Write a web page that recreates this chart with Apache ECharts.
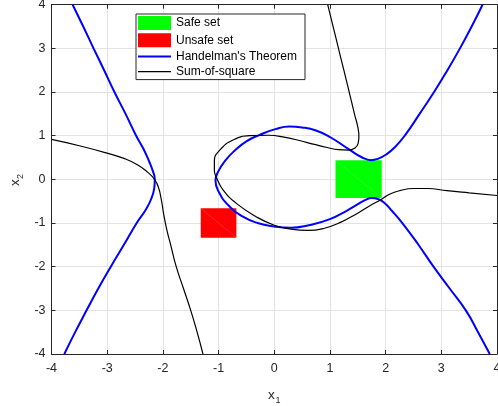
<!DOCTYPE html>
<html>
<head>
<meta charset="UTF-8">
<title>Safe / unsafe sets</title>
<script src="https://cdn.jsdelivr.net/npm/echarts@6/dist/echarts.min.js"></script>
<style>
  html, body { margin: 0; padding: 0; background: #fff; }
  #chart { width: 498px; height: 406px; }
</style>
</head>
<body>
<div id="chart"></div>
<script>
// axis ticks
var ticks = [-4, -3, -2, -1, 0, 1, 2, 3, 4];

// boxes: [x1, y1, x2, y2]
var safeBox = [1.1, -0.43, 1.93, 0.44];
var unsafeBox = [-1.32, -1.34, -0.68, -0.66];

// Handelman's Theorem curve (two branches)
var blueLeft = [
  [-3.62, 4], [-3.43, 3.5], [-3.245, 3], [-3.055, 2.5], [-2.87, 2], [-2.67, 1.5], [-2.48, 1],
  [-2.35, 0.7], [-2.25, 0.42], [-2.175, 0.17], [-2.145, 0], [-2.155, -0.2],
  [-2.21, -0.45], [-2.31, -0.7], [-2.47, -1], [-2.70, -1.5], [-2.935, -2],
  [-3.16, -2.5], [-3.37, -3], [-3.575, -3.5], [-3.77, -4]
];
var blueRight = [
  [3.74, 4], [3.545, 3.5], [3.335, 3], [3.11, 2.5], [2.87, 2], [2.61, 1.5], [2.36, 1.03],
  [2.17, 0.74], [2.01, 0.57], [1.86, 0.47], [1.74, 0.44], [1.58, 0.5], [1.35, 0.68],
  [1.0, 0.97], [0.75, 1.12], [0.5, 1.19], [0.27, 1.21], [0.02, 1.15], [-0.26, 1.02],
  [-0.5, 0.87], [-0.7, 0.67], [-0.88, 0.43], [-1.01, 0.17], [-1.055, -0.03],
  [-0.99, -0.3], [-0.82, -0.6], [-0.57, -0.85], [-0.3, -1.0], [0, -1.08],
  [0.3, -1.11], [0.62, -1.05], [1.0, -0.91], [1.3, -0.72], [1.5, -0.57],
  [1.64, -0.47], [1.75, -0.43], [1.86, -0.45], [1.97, -0.53], [2.12, -0.73],
  [2.3, -1], [2.58, -1.48], [2.86, -2], [3.15, -2.5], [3.44, -3], [3.66, -3.5], [3.87, -4]
];

// Sum-of-square curve (two branches)
var blackLeft = [
  [-4, 0.915], [-3.5, 0.77], [-3, 0.6], [-2.7, 0.48], [-2.45, 0.33], [-2.27, 0.16],
  [-2.15, 0.0], [-2.08, -0.18], [-2.03, -0.45], [-1.985, -0.8], [-1.93, -1.15],
  [-1.86, -1.5], [-1.76, -2], [-1.63, -2.5], [-1.5, -3], [-1.385, -3.5], [-1.28, -4]
];
var blackRight = [
  [0.96, 4], [1.057, 3.5], [1.153, 3], [1.25, 2.5], [1.346, 2], [1.44, 1.5], [1.5, 1.2],
  [1.52, 0.98], [1.505, 0.82], [1.45, 0.72], [1.33, 0.67], [1.15, 0.68], [0.95, 0.73],
  [0.72, 0.8], [0.45, 0.89], [0.2, 0.96], [-0.1, 1.01], [-0.44, 1.0], [-0.74, 0.9],
  [-0.97, 0.68], [-1.075, 0.42], [-1.075, 0.2], [-1.03, 0.02], [-0.92, -0.24],
  [-0.68, -0.55], [-0.32, -0.86], [0.0, -1.05], [0.3, -1.14], [0.6, -1.17],
  [0.9, -1.12], [1.2, -0.98], [1.49, -0.78], [1.71, -0.61], [1.92, -0.46],
  [2.07, -0.34], [2.25, -0.26], [2.5, -0.21], [2.75, -0.21], [3.1, -0.26], [3.5, -0.31], [4, -0.37]
];

var axisColor = '#262626';
var font = 'Liberation Sans, Arial, sans-serif';

function boxRender(params, api) {
  var p1 = api.coord([api.value(0), api.value(3)]);
  var p2 = api.coord([api.value(2), api.value(1)]);
  return {
    type: 'group',
    children: [
      {
        type: 'rect',
        shape: { x: p1[0], y: p1[1], width: p2[0] - p1[0], height: p2[1] - p1[1] },
        style: { fill: api.visual('color') }
      },
      {
        type: 'line',
        shape: { x1: p1[0], y1: p1[1], x2: p2[0], y2: p2[1] },
        style: { stroke: 'rgba(255,255,255,0.25)', lineWidth: 0.6 }
      }
    ]
  };
}

function axisPair(dim, pos, showLabels) {
  return {
    type: 'value',
    position: pos,
    min: ticks[0],
    max: ticks[ticks.length - 1],
    interval: 1,
    axisLine: { show: true, onZero: false, lineStyle: { color: axisColor, width: 1 } },
    axisTick: { show: true, inside: true, length: 4, lineStyle: { color: axisColor } },
    axisLabel: {
      show: showLabels,
      color: axisColor,
      fontSize: 12.5,
      fontFamily: font,
      margin: dim === 'x' ? 8 : 6
    },
    splitLine: { show: showLabels, lineStyle: { color: '#e3e3e3', width: 1 } }
  };
}

var chart = echarts.init(document.getElementById('chart'));

var option = {
  animation: false,
  backgroundColor: '#fff',
  grid: { left: 51.5, right: 1, top: 4.7, bottom: 52, outerBoundsMode: 'none', containLabel: false },
  xAxis: [axisPair('x', 'bottom', true), axisPair('x', 'top', false)],
  yAxis: [axisPair('y', 'left', true), axisPair('y', 'right', false)],
  legend: {
    orient: 'vertical',
    left: 136,
    top: 14,
    padding: [2, 8, 2, 2],
    itemGap: 3.2,
    itemWidth: 33,
    itemHeight: 14,
    backgroundColor: '#fff',
    borderColor: axisColor,
    borderWidth: 1,
    borderRadius: 0,
    textStyle: { color: '#000', fontSize: 12, fontFamily: font },
    data: [
      { name: 'Safe set', icon: 'rect' },
      { name: 'Unsafe set', icon: 'rect' },
      { name: "Handelman's Theorem", icon: 'path://M0 0H100V6H0Z' },
      { name: 'Sum-of-square', icon: 'path://M0 0H100V3.6H0Z' }
    ]
  },
  graphic: [
    { type: 'text', x: 268, y: 402, style: { text: 'x', font: '13.5px ' + font, fill: axisColor, textVerticalAlign: 'bottom' } },
    { type: 'text', x: 275.5, y: 405, style: { text: '1', font: '9px ' + font, fill: axisColor, textVerticalAlign: 'bottom' } },
    {
      type: 'group', x: 22, y: 186, rotation: Math.PI / 2,
      children: [
        { type: 'text', x: 0, y: 0, style: { text: 'x', font: '13.5px ' + font, fill: axisColor, textVerticalAlign: 'bottom' } },
        { type: 'text', x: 7, y: 3, style: { text: '2', font: '9px ' + font, fill: axisColor, textVerticalAlign: 'bottom' } }
      ]
    }
  ],
  series: [
    {
      name: 'Safe set', type: 'custom', renderItem: boxRender,
      itemStyle: { color: '#00ff00' }, data: [safeBox], z: 1
    },
    {
      name: 'Unsafe set', type: 'custom', renderItem: boxRender,
      itemStyle: { color: '#ff0000' }, data: [unsafeBox], z: 1
    },
    {
      name: "Handelman's Theorem", type: 'line', data: blueLeft, symbol: 'none', smooth: 0.5,
      color: '#0000ff', lineStyle: { color: '#0000ff', width: 2 }, z: 3
    },
    {
      name: "Handelman's Theorem", type: 'line', data: blueRight, symbol: 'none', smooth: 0.5,
      color: '#0000ff', lineStyle: { color: '#0000ff', width: 2 }, z: 3
    },
    {
      name: 'Sum-of-square', type: 'line', data: blackLeft, symbol: 'none', smooth: 0.5,
      color: '#000', lineStyle: { color: '#000', width: 1.2 }, z: 4
    },
    {
      name: 'Sum-of-square', type: 'line', data: blackRight, symbol: 'none', smooth: 0.5,
      color: '#000', lineStyle: { color: '#000', width: 1.2 }, z: 4
    }
  ]
};

chart.setOption(option);
</script>
</body>
</html>
